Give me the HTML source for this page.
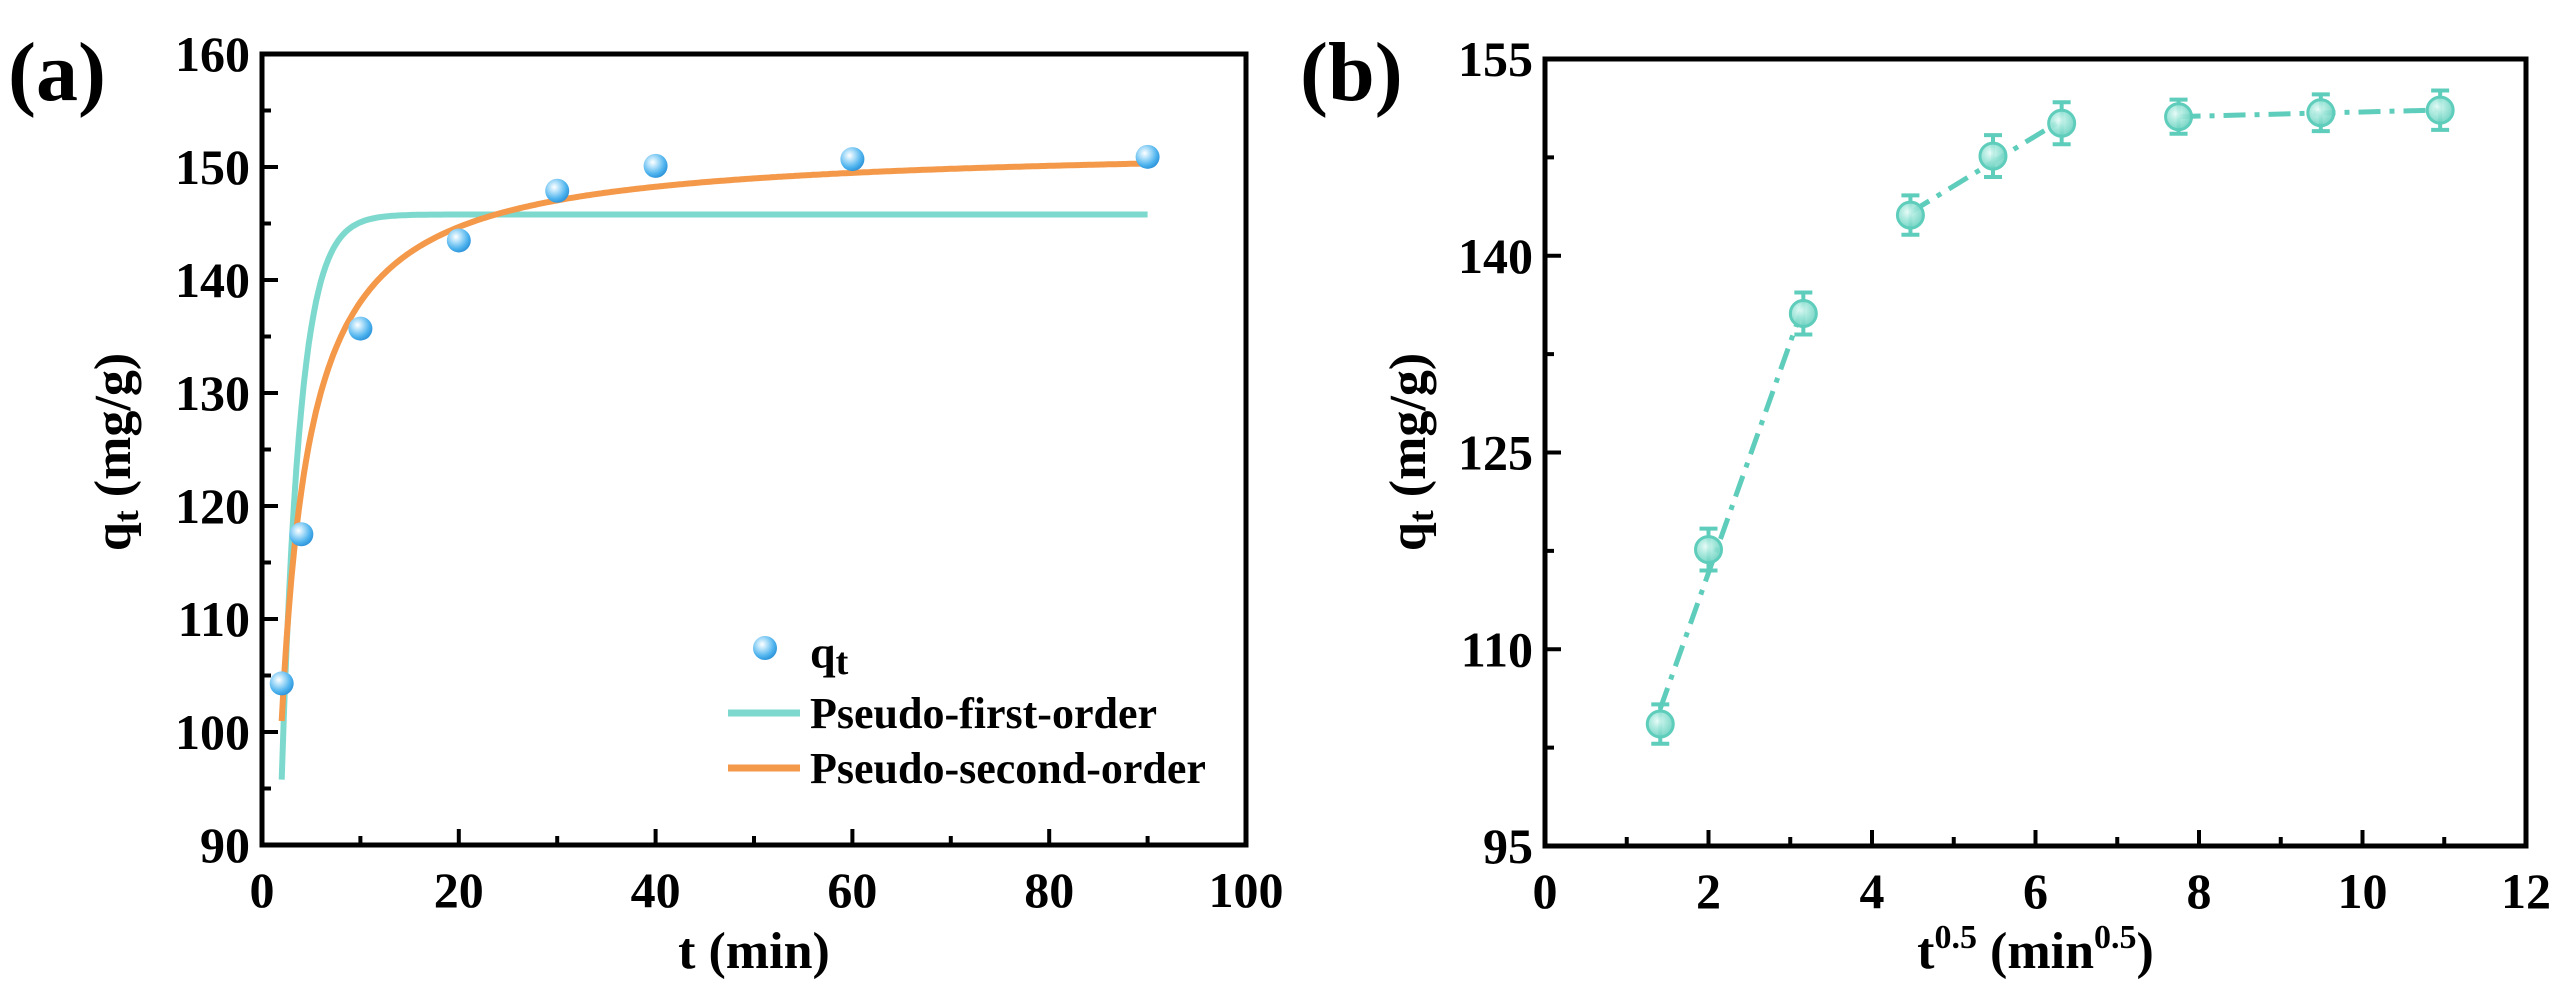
<!DOCTYPE html>
<html><head><meta charset="utf-8"><style>
html,body{margin:0;padding:0;background:#fff;}
svg{display:block;font-family:"Liberation Serif",serif;font-weight:bold;}
</style></head><body>
<svg id="fig" width="2564" height="1001" viewBox="0 0 2564 1001" xmlns="http://www.w3.org/2000/svg">
<defs>
<radialGradient id="gBlue" cx="0.38" cy="0.35" r="0.7">
<stop offset="0" stop-color="#ffffff"/><stop offset="0.25" stop-color="#bfe6fb"/><stop offset="0.7" stop-color="#4fb4ee"/><stop offset="1" stop-color="#2a8fd6"/>
</radialGradient>
<radialGradient id="gTeal" cx="0.4" cy="0.38" r="0.7">
<stop offset="0" stop-color="#e6fbf7"/><stop offset="0.4" stop-color="#a6e8dc"/><stop offset="1" stop-color="#5fcdbb"/>
</radialGradient>
</defs>
<g id="pa"></g>
<g id="pb"></g>
</svg>
<script>
// Panel (a) data
const aTime = [2, 4, 10, 20, 30, 40, 60, 90];
const aQt = [104.3, 117.5, 135.7, 143.5, 147.9, 150.1, 150.7, 150.9];
const aXTicks = [0, 20, 40, 60, 80, 100];
const aYTicks = [90, 100, 110, 120, 130, 140, 150, 160];
const pfoParams = [145.8, 0.535];   // qe, k1
const psoParams = [152.0, 0.00651]; // qe, k2
// Panel (b) data
const bX = [1.41, 2.0, 3.16, 4.47, 5.48, 6.32, 7.75, 9.49, 10.95];
const bQ = [104.3, 117.6, 135.6, 143.1, 147.6, 150.1, 150.6, 150.9, 151.1];
const bErr = [1.5, 1.6, 1.6, 1.5, 1.6, 1.6, 1.3, 1.4, 1.5];
const bGroups = [[0,1,2],[3,4,5],[6,7,8]];
const bXTicks = [0, 2, 4, 6, 8, 10, 12];
const bYTicks = [95, 110, 125, 140, 155];

const NS = "http://www.w3.org/2000/svg";
function mk(parent, tag, attrs, text){
  const e = document.createElementNS(NS, tag);
  for (const k in attrs) e.setAttribute(k, attrs[k]);
  if (text !== undefined) e.textContent = text;
  parent.appendChild(e);
  return e;
}
function lin(d0,d1,r0,r1){ return v => r0 + (v-d0)*(r1-r0)/(d1-d0); }

function axes(g, L, R, T, B, sx, sy, xt, yt, xMinorStep, yMinorStep, xmin, xmax, ymin, ymax){
  const frame = mk(g, 'rect', {x:L, y:T, width:R-L, height:B-T, fill:'none', stroke:'#000', 'stroke-width':5});
  
  
  for (let v = xmin; v <= xmax + 1e-9; v += xMinorStep){
    const major = xt.some(t => Math.abs(t-v) < 1e-9);
    const tk = mk(g, 'line', {x1:sx(v), x2:sx(v), y1:B, y2:B-(major?16:9), stroke:'#000', 'stroke-width':4});
    
    
  }
  for (let v = ymin; v <= ymax + 1e-9; v += yMinorStep){
    const major = yt.some(t => Math.abs(t-v) < 1e-9);
    const tk = mk(g, 'line', {x1:L, x2:L+(major?16:9), y1:sy(v), y2:sy(v), stroke:'#000', 'stroke-width':4});
    
    
  }
  xt.forEach(v => {
    const t = mk(g, 'text', {x:sx(v), y:B+62, 'text-anchor':'middle', 'font-size':50}, String(v));
    
    
  });
  yt.forEach(v => {
    const t = mk(g, 'text', {x:L-12, y:sy(v)+17, 'text-anchor':'end', 'font-size':50}, String(v));
    
    
  });
}

// ---------- Panel A ----------
(function(){
  const g = document.getElementById('pa');
  const L=262, R=1246, T=54, B=845;
  const sx = lin(0,100,L,R), sy = lin(90,160,B,T);
  axes(g, L, R, T, B, sx, sy, aXTicks, aYTicks, 10, 5, 0, 100, 90, 160);
  // PFO curve
  let d = '';
  for (let t = 2; t <= 90; t += 0.25){
    const q = pfoParams[0]*(1-Math.exp(-pfoParams[1]*t));
    d += (d ? 'L' : 'M') + sx(t).toFixed(1) + ',' + sy(q).toFixed(1);
  }
  const p1 = mk(g, 'path', {d:d, fill:'none', stroke:'#7dd9cd', 'stroke-width':6});
  
  
  d = '';
  for (let t = 2; t <= 90; t += 0.25){
    const a = psoParams[1]*psoParams[0];
    const q = psoParams[0]*a*t/(1+a*t);
    d += (d ? 'L' : 'M') + sx(t).toFixed(1) + ',' + sy(q).toFixed(1);
  }
  const p2 = mk(g, 'path', {d:d, fill:'none', stroke:'#f4984a', 'stroke-width':6});
  
  
  aTime.forEach((t,i) => {
    const c = mk(g, 'circle', {cx:sx(t), cy:sy(aQt[i]), r:12, fill:'url(#gBlue)'});
    
    
  });
  // legend
  const lg = mk(g, 'g', {});
  
  
  const lm = mk(lg, 'circle', {cx:765, cy:648, r:12, fill:'url(#gBlue)'});
  
  
  const lt = mk(lg, 'text', {x:810, y:668, 'font-size':46}, 'q');
  
  
  mk(lt, 'tspan', {'font-size':38, dy:6}, 't');
  const l1 = mk(lg, 'line', {x1:728, x2:800, y1:713, y2:713, stroke:'#7dd9cd', 'stroke-width':7});
  
  
  const t1 = mk(lg, 'text', {x:810, y:728, 'font-size':44}, 'Pseudo-first-order');
  
  
  const l2 = mk(lg, 'line', {x1:728, x2:800, y1:768, y2:768, stroke:'#f4984a', 'stroke-width':7});
  
  
  const t2 = mk(lg, 'text', {x:810, y:783, 'font-size':44}, 'Pseudo-second-order');
  
  
  // titles
  const xt = mk(g, 'text', {x:(L+R)/2, y:968, 'text-anchor':'middle', 'font-size':52}, 't (min)');
  
  
  const yt = mk(g, 'text', {x:0, y:0, 'text-anchor':'middle', 'font-size':52, transform:'translate(130,452) rotate(-90)'}, 'q');
  
  
  mk(yt, 'tspan', {'font-size':36, dy:8}, 't');
  mk(yt, 'tspan', {dy:-8}, ' (mg/g)');
  const pl = mk(g, 'text', {x:8, y:100, 'font-size':84}, '(a)');
  
  
})();

// ---------- Panel B ----------
(function(){
  const g = document.getElementById('pb');
  const L=1545, R=2526, T=59, B=846;
  const sx = lin(0,12,L,R), sy = lin(95,155,B,T);
  axes(g, L, R, T, B, sx, sy, bXTicks, bYTicks, 1, 7.5, 0, 12, 95, 155);
  // linear fit segments per group
  bGroups.forEach(gr => {
    const n = gr.length;
    let sxv=0, syv=0, sxx=0, sxy=0;
    gr.forEach(i => { sxv+=bX[i]; syv+=bQ[i]; sxx+=bX[i]*bX[i]; sxy+=bX[i]*bQ[i]; });
    const m = (n*sxy - sxv*syv)/(n*sxx - sxv*sxv);
    const c = (syv - m*sxv)/n;
    const x0 = bX[gr[0]], x1 = bX[gr[n-1]];
    const ln = mk(g, 'line', {x1:sx(x0), y1:sy(m*x0+c), x2:sx(x1), y2:sy(m*x1+c), stroke:'#5fcdbb', 'stroke-width':5, 'stroke-dasharray':'22 9 5 9'});
    
    
  });
  bX.forEach((x,i) => {
    const cx = sx(x), yt = sy(bQ[i]+bErr[i]), yb = sy(bQ[i]-bErr[i]);
    const eb = mk(g, 'path', {d:`M${cx},${yt}V${yb}M${cx-9},${yt}H${cx+9}M${cx-9},${yb}H${cx+9}`, stroke:'#5fcdbb', 'stroke-width':4, fill:'none'});
    
    
    const c = mk(g, 'circle', {cx:cx, cy:sy(bQ[i]), r:13, fill:'url(#gTeal)', 'fill-opacity':0.9, stroke:'#5fcdbb', 'stroke-width':3});
    
    
  });
  const xt = mk(g, 'text', {x:(L+R)/2, y:968, 'text-anchor':'middle', 'font-size':52}, 't');
  
  
  mk(xt, 'tspan', {'font-size':34, dy:-20}, '0.5');
  mk(xt, 'tspan', {dy:20}, ' (min');
  mk(xt, 'tspan', {'font-size':34, dy:-20}, '0.5');
  mk(xt, 'tspan', {dy:20}, ')');
  const yt = mk(g, 'text', {x:0, y:0, 'text-anchor':'middle', 'font-size':52, transform:'translate(1425,452) rotate(-90)'}, 'q');
  
  
  mk(yt, 'tspan', {'font-size':36, dy:8}, 't');
  mk(yt, 'tspan', {dy:-8}, ' (mg/g)');
  const pl = mk(g, 'text', {x:1300, y:100, 'font-size':84}, '(b)');
  
  
})();
</script>
</body></html>
